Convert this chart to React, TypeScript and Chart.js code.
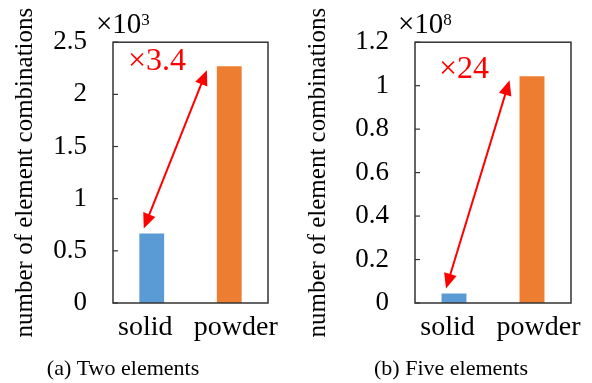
import React, { useEffect, useRef } from 'react';
import { Chart, registerables } from 'chart.js';

Chart.register(...registerables);

const CATEGORIES = ['solid', 'powder'];
const TWO_ELEMENT_VALUES = [0.667, 2.27];
const FIVE_ELEMENT_VALUES = [0.0435, 1.043];
const TWO_ELEMENT_TICKS = [0, 0.5, 1, 1.5, 2, 2.5];
const TWO_ELEMENT_TICK_LABELS = ['0', '0.5', '1', '1.5', '2', '2.5'];
const FIVE_ELEMENT_TICKS = [0, 0.2, 0.4, 0.6, 0.8, 1, 1.2];
const FIVE_ELEMENT_TICK_LABELS = ['0', '0.2', '0.4', '0.6', '0.8', '1', '1.2'];
const BAR_COLORS = ['#5B9BD5', '#ED7D31'];
const Y_TITLE = 'number of element combinations';
const EXPONENTS = ['3', '8'];
const RATIO_LABELS = ['×3.4', '×24'];
const CAPTIONS = ['(a) Two elements', '(b) Five elements'];

const SERIF = "'Liberation Serif', 'Times New Roman', serif";
const RED = '#FF0000';
const LABEL_SHIFT = [-6.5, 6.5];

type PanelProps = {
  values: number[];
  ticks: number[];
  tickLabels: string[];
  exponent: string;
  ratioLabel: string;
  caption: string;
  plotLeft: number;
  padRight: number;
  titlePad: number;
  multX: number;
  ratioX: number;
  ratioY: number;
  captionX: number;
};

const W = 296;
const H = 383;
const PLOT_TOP = 38;
const PLOT_BOTTOM = 303;

function drawArrowHead(ctx: CanvasRenderingContext2D, fx: number, fy: number, tx: number, ty: number) {
  const ang = Math.atan2(ty - fy, tx - fx);
  const len = 15;
  const hw = 6.5;
  const bx = tx - len * Math.cos(ang);
  const by = ty - len * Math.sin(ang);
  ctx.beginPath();
  ctx.moveTo(tx, ty);
  ctx.lineTo(bx + hw * Math.sin(ang), by - hw * Math.cos(ang));
  ctx.lineTo(bx - hw * Math.sin(ang), by + hw * Math.cos(ang));
  ctx.closePath();
  ctx.fill();
}

function Panel(p: PanelProps) {
  const ref = useRef<HTMLCanvasElement | null>(null);
  useEffect(() => {
    if (!ref.current) return;
    const overlay = {
      id: 'overlay',
      afterDraw(chart: any) {
        const ctx: CanvasRenderingContext2D = chart.ctx;
        const a = chart.chartArea;
        const ys = chart.scales.y;
        const xs = chart.scales.x;
        ctx.save();
        // frame
        ctx.strokeStyle = '#333333';
        ctx.lineWidth = 1.5;
        ctx.strokeRect(a.left, a.top, a.right - a.left, a.bottom - a.top);
        // inward ticks
        ctx.lineWidth = 1.2;
        ys.ticks.forEach((t: any) => {
          const y = ys.getPixelForValue(t.value);
          ctx.beginPath();
          ctx.moveTo(a.left, y);
          ctx.lineTo(a.left + 5, y);
          ctx.stroke();
        });
        // category labels
        ctx.fillStyle = '#000';
        ctx.textBaseline = 'alphabetic';
        ctx.textAlign = 'center';
        ctx.font = `28px ${SERIF}`;
        CATEGORIES.forEach((c, i) => {
          ctx.fillText(c, xs.getPixelForValue(i) + LABEL_SHIFT[i], a.bottom + 32);
        });
        // multiplier ×10^n
        ctx.textAlign = 'left';
        ctx.font = `29px ${SERIF}`;
        const base = '×10';
        ctx.fillText(base, p.multX, 33);
        const bw = ctx.measureText(base).width;
        ctx.font = `17px ${SERIF}`;
        ctx.fillText(p.exponent, p.multX + bw, 25);
        // arrow between bar tops
        const meta = chart.getDatasetMeta(0);
        const b0 = meta.data[0];
        const b1 = meta.data[1];
        const x0 = b0.x - 8;
        const y0 = b0.y - 5;
        const x1 = b1.x - b1.width / 2 - 10;
        const y1 = b1.y + 4;
        ctx.strokeStyle = RED;
        ctx.fillStyle = RED;
        ctx.lineWidth = 2;
        const ang = Math.atan2(y1 - y0, x1 - x0);
        ctx.beginPath();
        ctx.moveTo(x0 + 10 * Math.cos(ang), y0 + 10 * Math.sin(ang));
        ctx.lineTo(x1 - 10 * Math.cos(ang), y1 - 10 * Math.sin(ang));
        ctx.stroke();
        drawArrowHead(ctx, x0, y0, x1, y1);
        drawArrowHead(ctx, x1, y1, x0, y0);
        // ratio label
        ctx.font = `32px ${SERIF}`;
        ctx.fillText(p.ratioLabel, p.ratioX, p.ratioY);
        // caption
        ctx.fillStyle = '#000';
        ctx.textAlign = 'center';
        ctx.font = `22px ${SERIF}`;
        ctx.fillText(p.caption, p.captionX, 375);
        ctx.restore();
      },
    };
    const chart = new Chart(ref.current, {
      type: 'bar',
      data: {
        labels: CATEGORIES,
        datasets: [
          {
            data: p.values,
            backgroundColor: BAR_COLORS,
            borderWidth: 0,
            barPercentage: 0.32,
            categoryPercentage: 1,
          },
        ],
      },
      options: {
        animation: false,
        responsive: false,
        devicePixelRatio: 1,
        layout: { padding: { top: PLOT_TOP, right: p.padRight, left: 0, bottom: 0 } },
        plugins: { legend: { display: false }, tooltip: { enabled: false } },
        scales: {
          x: {
            grid: { display: false, drawTicks: false },
            border: { display: false },
            ticks: { display: false },
            afterFit: (s: any) => {
              s.height = H - PLOT_BOTTOM;
            },
          },
          y: {
            min: p.ticks[0],
            max: p.ticks[p.ticks.length - 1],
            grid: { display: false, drawTicks: false },
            border: { display: false },
            afterBuildTicks: (s: any) => {
              s.ticks = p.ticks.map((v) => ({ value: v }));
            },
            ticks: {
              color: '#000',
              font: { family: SERIF, size: 27 },
              padding: 26,
              callback: (_v: any, i: number) => p.tickLabels[i],
            },
            title: {
              display: true,
              text: Y_TITLE,
              color: '#000',
              font: { family: SERIF, size: 25 },
              padding: { top: p.titlePad, bottom: 0 },
            },
            afterFit: (s: any) => {
              s.width = p.plotLeft;
            },
          },
        },
      },
      plugins: [overlay],
    } as any);
    return () => chart.destroy();
  }, []);
  return <canvas ref={ref} width={W} height={H} style={{ width: W, height: H, display: 'block' }} />;
}

export default function App() {
  return (
    <div
      style={{
        position: 'fixed',
        left: 0,
        top: 0,
        width: 592,
        height: 383,
        background: '#fff',
        display: 'flex',
      }}
    >
      <Panel
        values={TWO_ELEMENT_VALUES}
        ticks={TWO_ELEMENT_TICKS}
        tickLabels={TWO_ELEMENT_TICK_LABELS}
        exponent={EXPONENTS[0]}
        ratioLabel={RATIO_LABELS[0]}
        caption={CAPTIONS[0]}
        plotLeft={113}
        padRight={28}
        titlePad={10}
        multX={96}
        ratioX={128}
        ratioY={70}
        captionX={123}
      />
      <Panel
        values={FIVE_ELEMENT_VALUES}
        ticks={FIVE_ELEMENT_TICKS}
        tickLabels={FIVE_ELEMENT_TICK_LABELS}
        exponent={EXPONENTS[1]}
        ratioLabel={RATIO_LABELS[1]}
        caption={CAPTIONS[1]}
        plotLeft={119}
        padRight={21}
        titlePad={7}
        multX={102}
        ratioX={143}
        ratioY={78}
        captionX={155}
      />
    </div>
  );
}
